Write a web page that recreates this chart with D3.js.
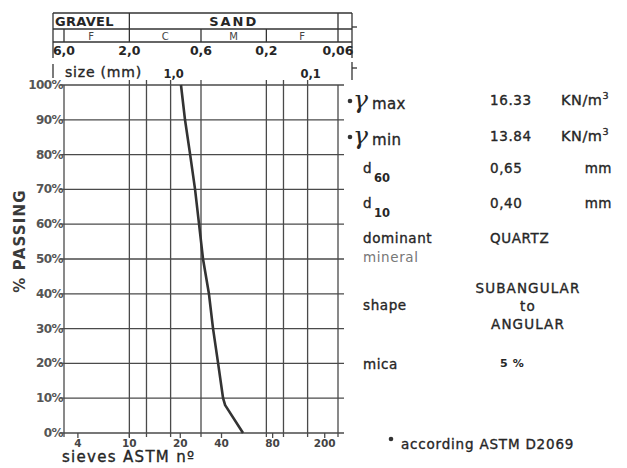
<!DOCTYPE html>
<html lang="en">
<head>
<meta charset="UTF-8">
<title>Grain size distribution</title>
<script src="https://d3js.org/d3.v7.min.js"></script>
<style>
  body { margin: 0; background: #fff; }
  svg text { font-family: "DejaVu Sans", "Liberation Sans", sans-serif; fill: #262626; }
  svg text.med { stroke: #262626; stroke-width: 0.35px; }
  .grid { stroke: #4a4a4a; stroke-width: 1.3px; }
  .curve { fill: none; stroke: #333; stroke-width: 2.6px; stroke-linejoin: round; }
  .hdr { fill: none; stroke: #333; stroke-width: 1.3px; }
</style>
</head>
<body>
<svg width="627" height="468"></svg>
<script>
// grading curve
const passPct = [100, 90, 80, 70, 60, 50, 40, 30, 20, 10, 8, 0];
const grainMm = [0.84, 0.785, 0.72, 0.663, 0.62, 0.58, 0.525, 0.49, 0.45, 0.414, 0.40, 0.296];

// axes
const pctTicks = [0, 10, 20, 30, 40, 50, 60, 70, 80, 90, 100];
const gridMm = [2.0, 1.5, 1.0, 0.6, 0.2, 0.15, 0.1];
const sieveNo = ["4", "10", "20", "40", "80", "200"];
const sieveMm = [4.75, 2.0, 0.85, 0.425, 0.18, 0.075];
const sizeMain = [6.0, 2.0, 0.6, 0.2, 0.06];
const sizeMainLbl = ["6,0", "2,0", "0,6", "0,2", "0,06"];
const sizeSub = [1.0, 0.1];
const sizeSubLbl = ["1,0", "0,1"];

// soil classes on top of the chart
const classTop = ["GRAVEL", "SAND"];
const classTopFrom = [6.0, 2.0];
const classTopTo = [2.0, 0.06];
const classSub = ["F", "C", "M", "F"];
const classSubFrom = [6.0, 2.0, 0.6, 0.2];
const classSubTo = [2.0, 0.6, 0.2, 0.06];

// properties panel
const propLabel = ["d", "d", "dominant", "shape", "mica"];
const propSub = ["60", "10", "", "", ""];
const propValue = ["0,65", "0,40", "QUARTZ", "", "5 %"];
const propUnit = ["mm", "mm", "", "", ""];
const densName = ["max", "min"];
const densValue = ["16.33", "13.84"];
const shapeLines = ["SUBANGULAR", "to", "ANGULAR"];

const svg = d3.select("svg");

const x = d3.scaleLog().domain([6.0, 0.06]).range([64, 338]);
const y = d3.scaleLinear().domain([0, 100]).range([433, 85]);

// horizontal grid
svg.append("g").selectAll("line").data(pctTicks).join("line")
  .attr("class", "grid")
  .attr("x1", x(6.0) - 4).attr("x2", x(0.06) + 6)
  .attr("y1", d => y(d)).attr("y2", d => y(d));

// vertical grid + borders
svg.append("g").selectAll("line").data([6.0, ...gridMm, 0.06]).join("line")
  .attr("class", "grid")
  .attr("x1", d => x(d)).attr("x2", d => x(d))
  .attr("y1", d => (d === 6.0 || d === 0.06) ? y(100) : y(100) - 5)
  .attr("y2", y(0) + 4);

// sieve ticks on the bottom
svg.append("g").selectAll("line").data(sieveMm).join("line")
  .attr("class", "grid")
  .attr("x1", d => x(d)).attr("x2", d => x(d))
  .attr("y1", y(0)).attr("y2", y(0) + 5);

// y tick labels
svg.append("g").selectAll("text").data(pctTicks).join("text")
  .attr("x", x(6.0) - 1).attr("y", d => y(d) + 4)
  .attr("text-anchor", "end")
  .style("font-size", "12px").style("font-weight", "bold").style("fill", "#555")
  .style("letter-spacing", "-0.6px")
  .text(d => d + "%");

svg.append("text")
  .attr("transform", `translate(25,241) rotate(-90)`)
  .attr("text-anchor", "middle")
  .style("font-size", "15px").style("font-weight", "bold").style("letter-spacing", "1.2px")
  .style("fill", "#3a3a3a")
  .text("% PASSING");

// sieve labels
svg.append("g").selectAll("text").data(sieveMm).join("text")
  .attr("x", d => x(d)).attr("y", 447)
  .attr("text-anchor", "middle")
  .style("font-size", "10.5px").style("font-weight", "bold").style("fill", "#444")
  .text((d, i) => sieveNo[i]);

svg.append("text").attr("class", "med")
  .attr("x", 62).attr("y", 462)
  .style("font-size", "15px").style("letter-spacing", "1.3px")
  .text("sieves ASTM nº");

// grading curve
svg.append("path")
  .datum(d3.range(passPct.length))
  .attr("class", "curve")
  .attr("d", d3.line().x(i => x(grainMm[i])).y(i => y(passPct[i])));

// ---- header table ----
const hx0 = x(6.0) - 11, hx1 = x(0.06) + 14;
const r0 = 13, r1 = 29, r2 = 42, r3 = 58;
const hdr = svg.append("g");
hdr.append("line").attr("class", "hdr").attr("x1", hx0).attr("x2", hx1).attr("y1", r0).attr("y2", r0);
hdr.append("line").attr("class", "hdr").attr("x1", hx0).attr("x2", hx1).attr("y1", r1).attr("y2", r1);
hdr.append("line").attr("class", "hdr").attr("x1", hx0).attr("x2", hx1).attr("y1", r2).attr("y2", r2);
hdr.append("line").attr("class", "hdr").attr("x1", hx0).attr("x2", hx0).attr("y1", r0).attr("y2", r3);
hdr.append("line").attr("class", "hdr").attr("x1", hx1).attr("x2", hx1).attr("y1", r0).attr("y2", r3);
hdr.append("line").attr("class", "hdr").attr("x1", hx0).attr("x2", hx0).attr("y1", 64).attr("y2", 78);
hdr.append("line").attr("class", "hdr").attr("x1", hx1).attr("x2", hx1).attr("y1", 62).attr("y2", 80);
hdr.append("line").attr("class", "hdr").attr("x1", hx1).attr("x2", hx1 + 5).attr("y1", 68).attr("y2", 68);
hdr.append("line").attr("class", "hdr").attr("x1", hx1).attr("x2", hx1 + 5).attr("y1", 27).attr("y2", 27);
// column dividers
hdr.selectAll("line.div1").data(classTopTo).join("line").attr("class", "hdr div1")
  .attr("x1", d => x(d)).attr("x2", d => x(d)).attr("y1", r0).attr("y2", r1);
hdr.selectAll("line.div2").data([6.0, ...classSubTo]).join("line").attr("class", "hdr div2")
  .attr("x1", d => x(d)).attr("x2", d => x(d)).attr("y1", r1).attr("y2", r2);

hdr.selectAll("text.c1").data(classTop).join("text").attr("class", "c1")
  .attr("x", (d, i) => i === 0 ? hx0 + 2 : (x(classTopFrom[i]) + x(classTopTo[i])) / 2)
  .attr("y", r1 - 3)
  .attr("text-anchor", (d, i) => i === 0 ? "start" : "middle")
  .style("font-size", "13px").style("font-weight", "bold").style("letter-spacing", (d, i) => i === 0 ? "0.3px" : "2px")
  .text(d => d);

hdr.selectAll("text.c2").data(classSub).join("text").attr("class", "c2")
  .attr("x", (d, i) => i === 0 ? (hx0 + x(classSubTo[0])) / 2 : (x(classSubFrom[i]) + x(classSubTo[i])) / 2)
  .attr("y", r2 - 2)
  .attr("text-anchor", "middle")
  .style("font-size", "10px").style("fill", "#444")
  .text(d => d);

hdr.selectAll("text.s1").data(sizeMain).join("text").attr("class", "s1")
  .attr("x", d => x(d)).attr("y", 55)
  .attr("text-anchor", "middle")
  .style("font-size", "12.5px").style("font-weight", "bold")
  .text((d, i) => sizeMainLbl[i]);

hdr.append("text").attr("class", "med").attr("x", 65).attr("y", 77)
  .style("font-size", "14px").style("letter-spacing", "0.8px")
  .text("size (mm)");

hdr.selectAll("text.s2").data(sizeSub).join("text").attr("class", "s2")
  .attr("x", d => x(d) + 3).attr("y", 78)
  .attr("text-anchor", "middle")
  .style("font-size", "11.5px").style("font-weight", "bold")
  .text((d, i) => sizeSubLbl[i]);

// ---- property panel ----
const pan = svg.append("g");
const fs = "13.5px";
const colL = 363, colV = 490, colU = 612;

densName.forEach((nm, i) => {
  const by = [109, 145][i];
  pan.append("circle").attr("cx", 350).attr("cy", by - 8).attr("r", 2.3).attr("fill", "#333");
  pan.append("text").attr("x", 353).attr("y", by - 1)
    .style("font-family", "'DejaVu Serif', serif").style("font-style", "italic")
    .style("font-size", "25px").text("γ");
  pan.append("text").attr("class", "med").attr("x", 372).attr("y", by)
    .style("font-size", "15px").style("letter-spacing", "0.4px").text(nm);
  pan.append("text").attr("class", "med").attr("x", colV).attr("y", by - 4)
    .style("font-size", fs).style("letter-spacing", "0.6px").text(densValue[i]);
  const u = pan.append("text").attr("class", "med").attr("x", colU - 3).attr("y", by - 4).attr("text-anchor", "end")
    .style("font-size", "14.5px").style("letter-spacing", "0.5px");
  u.append("tspan").text("KN/m");
  u.append("tspan").attr("dy", -6).style("font-size", "9.5px").text("3");
});

const propY = [173, 208, 243, 310, 369];
propLabel.forEach((lb, i) => {
  pan.append("text").attr("class", "med").attr("x", colL).attr("y", propY[i])
    .style("font-size", fs).style("letter-spacing", "0.6px").text(lb);
  if (propSub[i]) {
    pan.append("text").attr("x", colL + 11).attr("y", propY[i] + 9)
      .style("font-size", "11.5px").style("font-weight", "bold").text(propSub[i]);
  }
  if (propValue[i]) {
    pan.append("text").attr("class", i === 4 ? null : "med")
      .attr("x", i === 4 ? 500 : colV).attr("y", propY[i] - (i === 4 ? 2 : 0))
      .style("font-size", i === 4 ? "11px" : fs).style("letter-spacing", "0.6px")
      .style("font-weight", i === 4 ? "bold" : "normal")
      .text(propValue[i]);
  }
  if (propUnit[i]) {
    pan.append("text").attr("class", "med").attr("x", colU).attr("y", propY[i]).attr("text-anchor", "end")
      .style("font-size", fs).style("letter-spacing", "0.5px").text(propUnit[i]);
  }
});
pan.append("text").attr("x", colL).attr("y", 262)
  .style("font-size", fs).style("letter-spacing", "0.6px").style("fill", "#777").text("mineral");

shapeLines.forEach((s, i) => {
  pan.append("text").attr("class", "med").attr("x", 528).attr("y", [293, 311, 329][i]).attr("text-anchor", "middle")
    .style("font-size", fs).style("letter-spacing", "1.1px").text(s);
});

pan.append("circle").attr("cx", 391).attr("cy", 439).attr("r", 2.3).attr("fill", "#333");
pan.append("text").attr("class", "med").attr("x", 401).attr("y", 449)
  .style("font-size", fs).style("letter-spacing", "0.8px")
  .text("according ASTM  D2069");
</script>
</body>
</html>
